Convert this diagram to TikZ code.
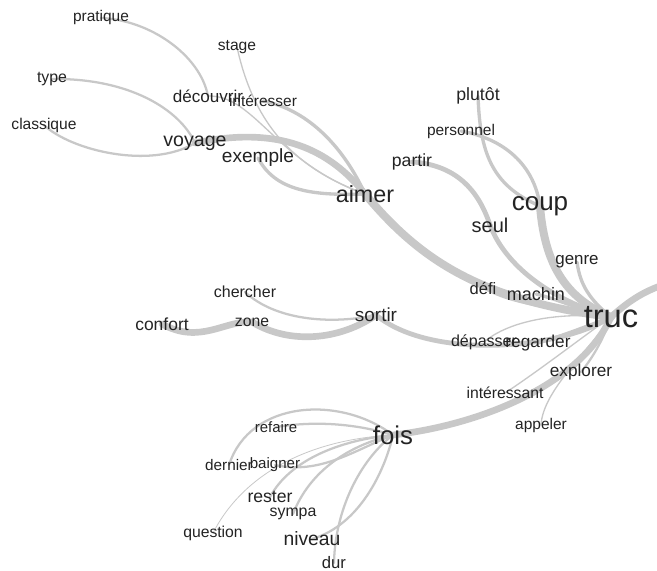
\documentclass[tikz,border=0pt]{standalone}
\usepackage{fontspec}
\setmainfont{Liberation Sans}
\usetikzlibrary{backgrounds}
\definecolor{edgecol}{RGB}{200,200,200}
\definecolor{txtcol}{RGB}{35,35,35}
\tikzset{
  e/.style={draw=edgecol, line cap=round, line join=round},
  w0/.style={e, line width=0.6pt},
  w1/.style={e, line width=1.0pt},
  w2/.style={e, line width=1.7pt},
  w3/.style={e, line width=2.5pt},
  w4/.style={e, line width=3.6pt},
  w5/.style={e, line width=5pt},
  w6/.style={e, line width=6pt},
  lbl/.style={text=txtcol, inner sep=0pt},
  fs/.style={lbl, font=\fontsize{#1}{#1}\selectfont}
}
\begin{document}
\begin{tikzpicture}[x=0.75pt, y=-0.75pt]
\useasboundingbox (0,0) rectangle (657,571);
\clip (0,0) rectangle (657,571);
% labels
\node[fs=11.6] (pratique) at (101,18) {pratique};
\node[fs=11.7] (stage) at (237,47) {stage};
\node[fs=11.9] (type) at (52,79) {type};
\node[fs=12.8] (decouvrir) at (208,96) {découvrir};
\node[fs=11.6] (interesser) at (263,101) {intéresser};
\node[fs=11.7] (classique) at (44,125) {classique};
\node[fs=14.7] (voyage) at (195,143) {voyage};
\node[fs=14.3] (exemple) at (258,158) {exemple};
\node[fs=17.5] (aimer) at (365,194) {aimer};
\node[fs=13.3] (plutot) at (478,96) {plutôt};
\node[fs=11.6] (personnel) at (461,131) {personnel};
\node[fs=13.2] (partir) at (412,162) {partir};
\node[fs=19.5] (coup) at (540,206) {coup};
\node[fs=15] (seul) at (490,225) {seul};
\node[fs=12.7] (genre) at (577,262) {genre};
\node[fs=12.4] (defi) at (483,288) {défi};
\node[fs=13.5] (machin) at (536,294) {machin};
\node[fs=24.5] (truc) at (611,317) {truc};
\node[fs=12] (chercher) at (245,292) {chercher};
\node[fs=14.2] (sortir) at (376,315) {sortir};
\node[fs=13.1] (confort) at (162,324) {confort};
\node[fs=11.8] (zone) at (252,322) {zone};
\node[fs=12] (depasser) at (484,342) {dépasser};
\node[fs=12.9] (regarder) at (538,343) {regarder};
\node[fs=12.9] (explorer) at (581,372) {explorer};
\node[fs=11.8] (interessant) at (505,393) {intéressant};
\node[fs=11.6] (appeler) at (541,425) {appeler};
\node[fs=19.3] (fois) at (393,435) {fois};
\node[fs=11.2] (refaire) at (276,427) {refaire};
\node[fs=11.5] (dernier) at (229,465) {dernier};
\node[fs=11.3] (baigner) at (275,465) {baigner};
\node[fs=13.2] (rester) at (270,497) {rester};
\node[fs=11.9] (sympa) at (293,514) {sympa};
\node[fs=11.8] (question) at (213,533) {question};
\node[fs=14.5] (niveau) at (312,539) {niveau};
\node[fs=12.5] (dur) at (334,563) {dur};
\coordinate (offR) at (672,282);
% connectors
\begin{scope}[on background layer]
\draw[w2] (pratique.center) .. controls (150,20) and (200,55) .. (decouvrir.center);
\draw[w2] (type.center) .. controls (130,78) and (180,110) .. (voyage.center);
\draw[w2] (classique.center) .. controls (70,150) and (150,170) .. (voyage.center);
\draw[w5] (voyage.center) .. controls (280,125) and (330,150) .. (aimer.center);
\draw[w3] (exemple.center) .. controls (275,190) and (310,196) .. (aimer.center);
\draw[w3] (interesser.center) .. controls (310,110) and (345,150) .. (aimer.center);
\draw[w1] (stage.center) .. controls (255,130) and (300,170) .. (aimer.center);
\draw[w1] (decouvrir.center) .. controls (255,95) and (275,162) .. (aimer.center);
\draw[w6] (aimer.center) .. controls (420,260) and (480,300) .. (truc.center);
\draw[w3] (plutot.center) .. controls (480,150) and (490,185) .. (coup.center);
\draw[w3] (personnel.center) .. controls (510,140) and (535,170) .. (coup.center);
\draw[w6] (coup.center) .. controls (545,270) and (570,300) .. (truc.center);
\draw[w4] (partir.center) .. controls (460,165) and (480,195) .. (seul.center);
\draw[w4] (seul.center) .. controls (505,265) and (550,300) .. (truc.center);
\draw[w3] (genre.center) .. controls (580,285) and (590,300) .. (truc.center);
\draw[w1] (defi.center) .. controls (510,305) and (560,310) .. (truc.center);
\draw[w3] (machin.center) .. controls (560,300) and (580,310) .. (truc.center);
\draw[w4] (sortir.center) .. controls (430,360) and (560,350) .. (truc.center);
\draw[w1] (depasser.center) .. controls (510,320) and (560,312) .. (truc.center);
\draw[w3] (regarder.center) .. controls (565,335) and (590,325) .. (truc.center);
\draw[w2] (explorer.center) .. controls (595,355) and (605,335) .. (truc.center);
\draw[w1] (interessant.center) .. controls (540,370) and (585,335) .. (truc.center);
\draw[w1] (appeler.center) .. controls (543,390) and (590,350) .. (truc.center);
\draw[w5] (fois.center) .. controls (480,425) and (580,385) .. (truc.center);
\draw[w5] (truc.center) .. controls (630,300) and (645,290) .. (offR);
\draw[w5] (confort.center) .. controls (200,345) and (225,320) .. (zone.center);
\draw[w5] (zone.center) .. controls (290,345) and (340,340) .. (sortir.center);
\draw[w2] (chercher.center) .. controls (275,320) and (330,325) .. (sortir.center);
\draw[w2] (refaire.center) .. controls (320,420) and (360,425) .. (fois.center);
\draw[w2] (dernier.center) .. controls (250,400) and (340,395) .. (fois.center);
\draw[w2] (baigner.center) .. controls (320,475) and (355,450) .. (fois.center);
\draw[w0] (question.center) .. controls (240,480) and (300,440) .. (fois.center);
\draw[w2] (rester.center) .. controls (290,460) and (340,440) .. (fois.center);
\draw[w2] (sympa.center) .. controls (310,470) and (350,445) .. (fois.center);
\draw[w2] (niveau.center) .. controls (360,525) and (385,470) .. (fois.center);
\draw[w2] (dur.center) .. controls (335,510) and (360,460) .. (fois.center);
\end{scope}
\end{tikzpicture}
\end{document}
